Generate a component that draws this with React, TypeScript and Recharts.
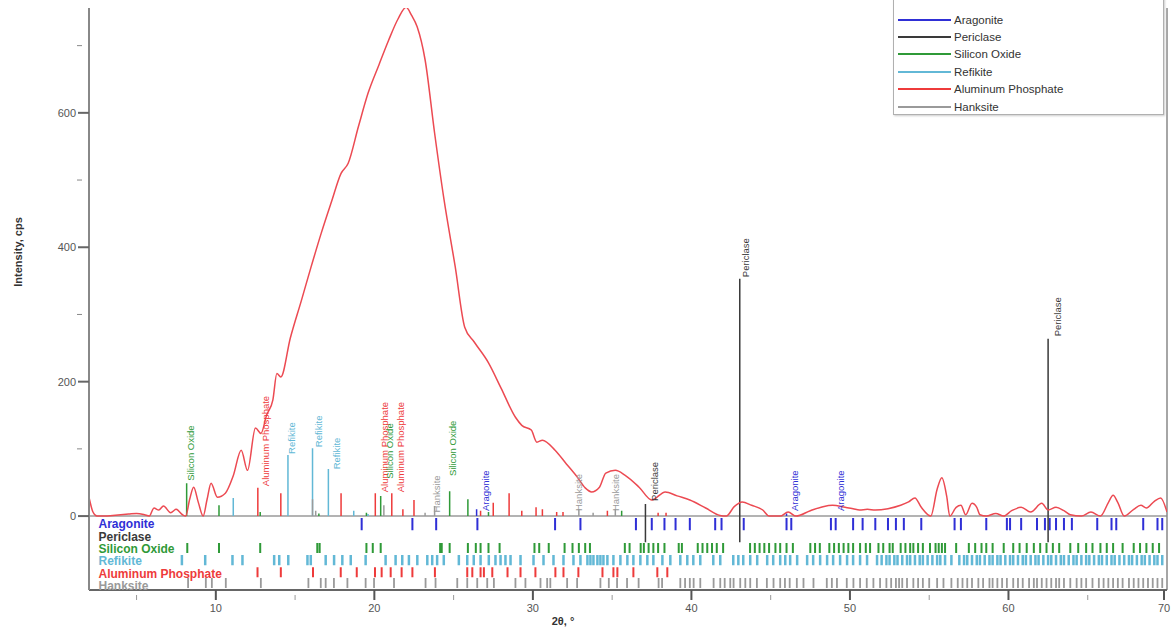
import React from 'react';
import { ComposedChart, Line, Scatter, XAxis, YAxis, ReferenceLine, Label } from 'recharts';

// measured scan: 2θ (°) and intensity (cps)
const scanAngle = [
  2.0, 2.25, 2.5, 3.0, 3.5, 4.0, 4.5, 5.0, 5.5, 5.8, 6.1, 6.4, 6.7, 7.15, 7.5, 7.9, 8.1, 8.35, 8.6, 8.9,
  9.2, 9.45, 9.7, 10.1, 10.6, 11.1, 11.6, 12.0, 12.5, 12.85, 13.2, 13.6, 13.85, 14.1, 14.7, 15.4, 16.0, 16.65, 17.3, 17.9,
  18.35, 19.0, 19.6, 20.3, 20.9, 21.5, 22.0, 22.35, 22.7, 23.2, 23.8, 24.4, 25.1, 25.7, 26.3, 27.2, 28.0, 28.9, 29.3, 29.9,
  30.25, 30.6, 31.4, 32.1, 32.8, 33.3, 33.7, 34.2, 34.6, 35.2, 35.8, 36.7, 37.5, 38.35, 39.1, 39.9, 40.9, 41.8, 42.2, 42.7,
  43.2, 43.8, 44.5, 44.9, 45.6, 46.1, 46.6, 47.5, 48.3, 48.9, 49.7, 50.2, 50.6, 51.1, 51.6, 52.4, 53.2, 53.7, 54.1, 54.5,
  55.1, 55.5, 55.8, 56.1, 56.3, 56.7, 57.0, 57.3, 57.7, 58.0, 58.2, 58.6, 59.2, 59.7, 60.2, 60.8, 61.4, 62.1, 62.5, 63.0,
  63.5, 63.9, 64.6, 65.2, 65.8, 66.3, 66.6, 66.9, 67.3, 67.9, 68.35, 68.7, 69.2, 69.6, 70.0,
];
const scanCps = [
  28, 6, 0, 0, 1, 2, 3, 4, 2, 0, 12, 9, 15, 5, 10, 2, 0, 25, 43, 20,
  0, 25, 49, 28, 34, 60, 98, 68, 131, 123, 150, 173, 212, 207, 265, 321, 370, 421, 468, 510,
  525, 580, 629, 672, 708, 740, 757, 745, 728, 679, 570, 470, 371, 281, 259, 228, 190, 147, 135, 128,
  110, 113, 98, 78, 58, 42, 36, 43, 64, 68, 61, 43, 24, 36, 30, 24, 12, 1, 0, 14,
  21, 16, 9, 0, 0, 6, 0, 8, 14, 16, 13, 11, 9, 10, 9, 11, 16, 21, 27, 13,
  0, 40, 57, 30, 0, 13, 16, 2, 19, 13, 2, 0, 4, 0, 8, 13, 6, 19, 9, 13,
  8, 2, 0, 6, 0, 20, 31, 20, 0, 10, 16, 12, 22, 27, 6,
];

const phaseNames = ['Aragonite', 'Periclase', 'Silicon Oxide', 'Refikite', 'Aluminum Phosphate', 'Hanksite'];
const phaseColors = ['#2f2fd6', '#3a3a3a', '#2f9a38', '#62b8d6', '#ee3b3b', '#9a9a9a'];

// scaled reference peaks shown above the baseline
const aragonitePeakAngle = [26.45, 46.0];
const aragonitePeakCps = [10, 4];
const periclasePeakAngle = [37.1, 43.05, 62.5];
const periclasePeakCps = [18, 353, 264];
const siliconPeakAngle = [8.16, 10.2, 12.8, 16.5, 19.5, 20.4, 24.75, 25.9, 27.2, 35.6];
const siliconPeakCps = [49, 16, 6, 4, 5, 30, 37, 25, 6, 8];
const refikitePeakAngle = [11.1, 14.55, 16.1, 17.1, 18.7, 19.6];
const refikitePeakCps = [27, 91, 101, 70, 8, 3];
const alPhosPeakAngle = [12.65, 14.1, 17.9, 20.06, 21.1, 21.8, 22.5, 26.7, 27.5, 28.5, 29.3, 30.2, 30.6, 31.5, 31.9, 34.7, 37.9, 38.4];
const alPhosPeakCps = [42, 34, 34, 34, 34, 10, 24, 8, 20, 34, 8, 13, 10, 6, 6, 8, 5, 5];
const hanksitePeakAngle = [16.1, 16.3, 20.6, 23.2, 23.8, 32.9, 33.8, 35.2];
const hanksitePeakCps = [25, 8, 16, 5, 15, 10, 5, 10];

// reference reflections listed in the stick strip under the scan
const aragoniteLines = [
  19.2, 22.4, 23.9, 26.5, 31.4, 33.0, 36.5, 37.5, 38.3, 39.0, 39.9, 41.5, 41.9, 43.3, 46.0, 46.3, 48.8, 49.1, 50.2, 50.8,
  51.6, 52.4, 52.9, 53.4, 54.5, 56.6, 57.0, 58.6, 59.9, 60.1, 60.8, 61.8, 62.3, 62.6, 63.0, 63.5, 64.0, 65.6, 66.5, 66.8,
  68.5, 69.4, 69.7,
];
const siliconLines = [
  8.2, 10.2, 12.8, 16.4, 16.55, 19.5, 19.9, 20.4, 24.15, 24.25, 24.75, 25.9, 26.4, 26.7, 27.2, 27.9, 30.1, 30.4, 31.0, 32.0,
  32.5, 32.9, 33.3, 33.6, 35.8, 36.1, 36.8, 37.0, 37.3, 37.6, 37.9, 38.3, 39.2, 39.4, 40.4, 40.7, 41.0, 41.3, 41.6, 42.0,
  43.7, 44.0, 44.3, 44.6, 44.9, 45.3, 45.6, 46.0, 46.4, 47.5, 47.8, 48.1, 48.7, 49.0, 49.3, 49.6, 49.9, 50.2, 50.64, 51.0,
  51.27, 51.8, 52.1, 52.5, 52.7, 53.2, 53.5, 53.8, 54.0, 54.3, 54.6, 55.05, 55.4, 55.6, 55.8, 56.0, 56.7, 57.5, 57.9, 58.3,
  58.6, 59.0, 59.7, 60.3, 60.7, 61.15, 61.6, 62.0, 62.4, 62.8, 63.2, 63.9, 64.4, 64.9, 65.3, 65.8, 66.2, 66.6, 67.2, 67.9,
  68.3, 68.7, 69.1, 69.5,
];
const refikiteLines = [
  7.86, 9.33, 11.05, 11.68, 13.68, 14.0, 14.57, 15.78, 15.99, 16.93, 17.46, 17.98, 18.51, 19.45, 20.71, 21.34, 21.76, 22.18, 22.71, 23.34,
  23.65, 23.96, 24.38, 25.33, 25.86, 26.27, 26.7, 27.22, 27.64, 27.96, 28.27, 28.59, 29.22, 30.04, 30.67, 31.3, 31.93, 32.56, 33.0, 33.44,
  33.63, 33.82, 34.07, 34.26, 34.45, 34.7, 35.08, 35.52, 35.96, 36.34, 36.78, 37.22, 37.6, 38.17, 38.67, 39.3, 39.74, 40.12, 40.56, 41.38,
  41.82, 42.64, 42.96, 43.27, 43.71, 44.15, 44.78, 45.16, 45.6, 45.92, 46.23, 46.67, 47.3, 47.68, 48.12, 48.56, 48.94, 49.38, 49.82, 50.2,
  50.64, 51.08, 51.71, 52.0, 52.3, 52.5, 52.8, 53.0, 53.3, 53.6, 53.8, 54.1, 54.4, 54.6, 54.9, 55.2, 55.5, 55.7, 56.0, 56.4,
  56.9, 57.2, 57.4, 57.7, 58.0, 58.2, 58.5, 58.8, 59.0, 59.3, 59.5, 59.8, 60.1, 60.3, 60.6, 60.9, 61.1, 61.4, 61.7, 61.9,
  62.2, 62.5, 62.7, 63.0, 63.3, 63.5, 63.8, 64.1, 64.3, 64.6, 64.9, 65.1, 65.4, 65.7, 65.9, 66.2, 66.5, 66.7, 67.0, 67.3,
  67.6, 67.8, 68.1, 68.4, 68.6, 68.9, 69.2, 69.4, 69.7,
];
const alPhosLines = [
  12.63, 14.1, 16.13, 17.88, 18.89, 20.04, 20.46, 21.03, 21.72, 22.4, 23.82, 25.86, 26.18, 26.7, 26.91, 27.44, 28.4, 29.22, 30.16, 31.42,
  31.93, 32.87, 34.39, 35.08, 35.33, 36.34, 37.85, 38.48,
];
const hanksiteLines = [
  8.25, 9.37, 9.75, 10.63, 12.84, 15.84, 16.62, 16.93, 17.45, 18.3, 19.45, 19.98, 21.24, 23.23, 23.86, 25.23, 25.86, 26.49, 27.12, 27.54,
  28.9, 29.53, 30.48, 30.9, 31.1, 32.16, 32.79, 34.26, 34.79, 35.31, 35.94, 36.67, 37.93, 38.15, 39.3, 39.6, 39.9, 40.14, 40.56, 41.4,
  41.82, 42.1, 42.45, 42.66, 43.08, 43.4, 43.71, 44.13, 44.76, 45.18, 45.6, 45.9, 46.2, 46.65, 47.07, 47.7, 48.54, 48.86, 49.18, 49.8,
  50.22, 50.64, 51.06, 51.48, 51.9, 52.3, 52.6, 52.9, 53.1, 53.3, 53.6, 54.0, 54.3, 54.6, 55.0, 55.5, 55.9, 56.4, 56.8, 57.1,
  57.4, 57.7, 58.1, 58.4, 58.8, 59.0, 59.3, 59.6, 59.9, 60.3, 60.6, 60.9, 61.3, 61.6, 61.8, 62.1, 62.4, 62.7, 63.0, 63.2,
  63.5, 63.9, 64.3, 64.6, 64.9, 65.3, 65.7, 66.0, 66.3, 66.6, 66.9, 67.2, 67.6, 67.9, 68.2, 68.5, 68.8, 69.1, 69.4, 69.7,
];

// peak annotations: position, intensity where the text starts, phase index
const labelAngle = [8.42, 13.16, 14.8, 16.5, 17.6, 20.63, 20.95, 21.65, 23.9, 24.9, 27.0, 32.9, 35.2, 37.65, 43.4, 46.5, 49.4, 63.1];
const labelCps = [51, 43, 91, 101, 68, 34, 54, 34, 4, 58, 6, 6, 6, 21, 354, 6, 6, 266];
const labelPhase = [2, 4, 3, 3, 3, 4, 2, 4, 5, 2, 0, 5, 5, 1, 1, 0, 0, 1];

const yTicks = [0, 100, 200, 300, 400, 500, 600, 700];
const xTicks = [5, 10, 15, 20, 25, 30, 35, 40, 45, 50, 55, 60, 65, 70];

// strip rows (below zero), top and bottom of each phase's row
const rowTop = [-3, -22, -40, -58, -76, -92];
const rowBottom = [-21, -39, -55, -73, -91, -107];
const rowText = [-12, -31, -49, -67, -86, -104];
const rowStroke = [2, 2, 2, 2.5, 2, 1.8];

const FONT = '"Liberation Sans", Arial, sans-serif';

type Pt = { x: number; y: number | null };

function segments(pos: number[], top: number[] | number, base: number): Pt[] {
  const out: Pt[] = [];
  pos.forEach((p, i) => {
    out.push({ x: p, y: base });
    out.push({ x: p, y: Array.isArray(top) ? top[i] : top });
    out.push({ x: p, y: null });
  });
  return out;
}

const scanData = scanAngle.map((a, i) => ({ x: a, y: scanCps[i] }));

const peakSets = [
  { angle: aragonitePeakAngle, cps: aragonitePeakCps, base: 0 },
  { angle: periclasePeakAngle, cps: periclasePeakCps, base: rowBottom[1] },
  { angle: siliconPeakAngle, cps: siliconPeakCps, base: 0 },
  { angle: refikitePeakAngle, cps: refikitePeakCps, base: 0 },
  { angle: alPhosPeakAngle, cps: alPhosPeakCps, base: 0 },
  { angle: hanksitePeakAngle, cps: hanksitePeakCps, base: 0 },
];
const stripSets = [aragoniteLines, [], siliconLines, refikiteLines, alPhosLines, hanksiteLines];

const labelData = labelAngle.map((a, i) => ({
  x: a,
  y: labelCps[i],
  name: phaseNames[labelPhase[i]],
  color: phaseColors[labelPhase[i]],
}));
const rowLabelData = phaseNames.map((n, i) => ({ x: 2.6, y: rowText[i], name: n, color: phaseColors[i] }));

const YTick = (props: any) => {
  const { x, y, payload } = props;
  const ax = x + 14;
  const major = payload.value % 200 === 0;
  return (
    <g>
      {major ? (
        <line x1={ax - 11} x2={ax} y1={y} y2={y} stroke="#666" strokeWidth={2} />
      ) : (
        <line x1={ax - 12} x2={ax - 7} y1={y} y2={y} stroke="#888" strokeWidth={1} />
      )}
      {major && (
        <text x={ax - 13} y={y} textAnchor="end" dominantBaseline="central" fontSize={11} fill="#555" fontFamily={FONT}>
          {payload.value}
        </text>
      )}
    </g>
  );
};

const XTick = (props: any) => {
  const { x, y, payload } = props;
  const ay = y - 14;
  const major = payload.value % 10 === 0;
  return (
    <g>
      {major ? (
        <line x1={x} x2={x} y1={ay} y2={ay + 10} stroke="#555" strokeWidth={2} />
      ) : (
        <line x1={x} x2={x} y1={ay + 5} y2={ay + 10} stroke="#999" strokeWidth={1} />
      )}
      {major && (
        <text x={x} y={ay + 18} textAnchor="middle" dominantBaseline="central" fontSize={11} fill="#555" fontFamily={FONT}>
          {payload.value}
        </text>
      )}
    </g>
  );
};

const PeakLabel = (props: any) => {
  const { cx, cy, payload } = props;
  return (
    <text
      transform={`translate(${cx},${cy - 1}) rotate(-90)`}
      textAnchor="start"
      dominantBaseline="central"
      fontSize={9.5}
      fill={payload.color}
      fontFamily={FONT}
    >
      {payload.name}
    </text>
  );
};

const RowLabel = (props: any) => {
  const { cx, cy, payload } = props;
  return (
    <text x={cx} y={cy} dominantBaseline="central" fontSize={12} fontWeight="bold" fill={payload.color} fontFamily={FONT}>
      {payload.name}
    </text>
  );
};

export default function App() {
  return (
    <div style={{ position: 'absolute', left: 0, top: 0, width: 1172, height: 632, background: '#fff', overflow: 'hidden' }}>
      <ComposedChart width={1172} height={632} margin={{ top: 8, right: 5, left: 29, bottom: 12 }}>
        <XAxis
          dataKey="x"
          type="number"
          domain={[2, 70]}
          allowDataOverflow
          ticks={xTicks}
          tick={<XTick />}
          tickLine={false}
          tickSize={10}
          tickMargin={4}
          height={30}
          axisLine={{ stroke: '#666', strokeWidth: 2 }}
        >
          <Label
            content={(p: any) => (
              <text x={p.viewBox.x + 474} y={p.viewBox.y + 31} textAnchor="middle" dominantBaseline="central"
                fontSize={11} fontWeight="bold" fill="#333" fontFamily={FONT}>
                2θ, °
              </text>
            )}
          />
        </XAxis>
        <YAxis
          dataKey="y"
          type="number"
          domain={[-110, 756]}
          allowDataOverflow
          ticks={yTicks}
          tick={<YTick />}
          tickLine={false}
          tickSize={10}
          tickMargin={4}
          width={60}
          axisLine={{ stroke: '#888', strokeWidth: 2 }}
        >
          <Label
            content={(p: any) => (
              <text transform={`translate(${p.viewBox.x - 11},${p.viewBox.y + 244}) rotate(-90)`} textAnchor="middle"
                dominantBaseline="central" fontSize={11} fontWeight="bold" fill="#333" fontFamily={FONT}>
                Intensity, cps
              </text>
            )}
          />
        </YAxis>
        <ReferenceLine y={0} stroke="#9a9a9a" strokeWidth={1.5} />
        <ReferenceLine x={70} stroke="#888" strokeWidth={1.5} />

        {stripSets.map((pos, i) => (
          <Line
            key={'strip' + i}
            data={segments(pos, rowTop[i], rowBottom[i])}
            dataKey="y"
            type="linear"
            stroke={phaseColors[i]}
            strokeWidth={rowStroke[i]}
            dot={false}
            activeDot={false}
            connectNulls={false}
            isAnimationActive={false}
          />
        ))}
        {peakSets.map((s, i) => (
          <Line
            key={'peak' + i}
            data={segments(s.angle, s.cps, s.base)}
            dataKey="y"
            type="linear"
            stroke={phaseColors[i]}
            strokeWidth={1.5}
            dot={false}
            activeDot={false}
            connectNulls={false}
            isAnimationActive={false}
          />
        ))}

        <Line
          data={scanData}
          dataKey="y"
          type="monotone"
          stroke="#ec4a52"
          strokeWidth={1.5}
          dot={false}
          activeDot={false}
          isAnimationActive={false}
        />
        <Scatter data={labelData} dataKey="y" shape={<PeakLabel />} isAnimationActive={false} />
        <Scatter data={rowLabelData} dataKey="y" shape={<RowLabel />} isAnimationActive={false} />
      </ComposedChart>

      <div
        style={{
          position: 'absolute',
          left: 893,
          top: -12,
          width: 271,
          height: 127,
          border: '1px solid #b0b0b0',
          boxShadow: '1px 1px 2px #ccc',
          background: '#fff',
          fontFamily: FONT,
          fontSize: 11.5,
          color: '#333',
          paddingTop: 22,
          boxSizing: 'border-box',
        }}
      >
        {phaseNames.map((n, i) => (
          <div key={n} style={{ display: 'flex', alignItems: 'center', height: 17.4 }}>
            <div style={{ width: 53, height: 2, marginLeft: 4, marginRight: 3, background: phaseColors[i] }} />
            <span>{n}</span>
          </div>
        ))}
      </div>
    </div>
  );
}
